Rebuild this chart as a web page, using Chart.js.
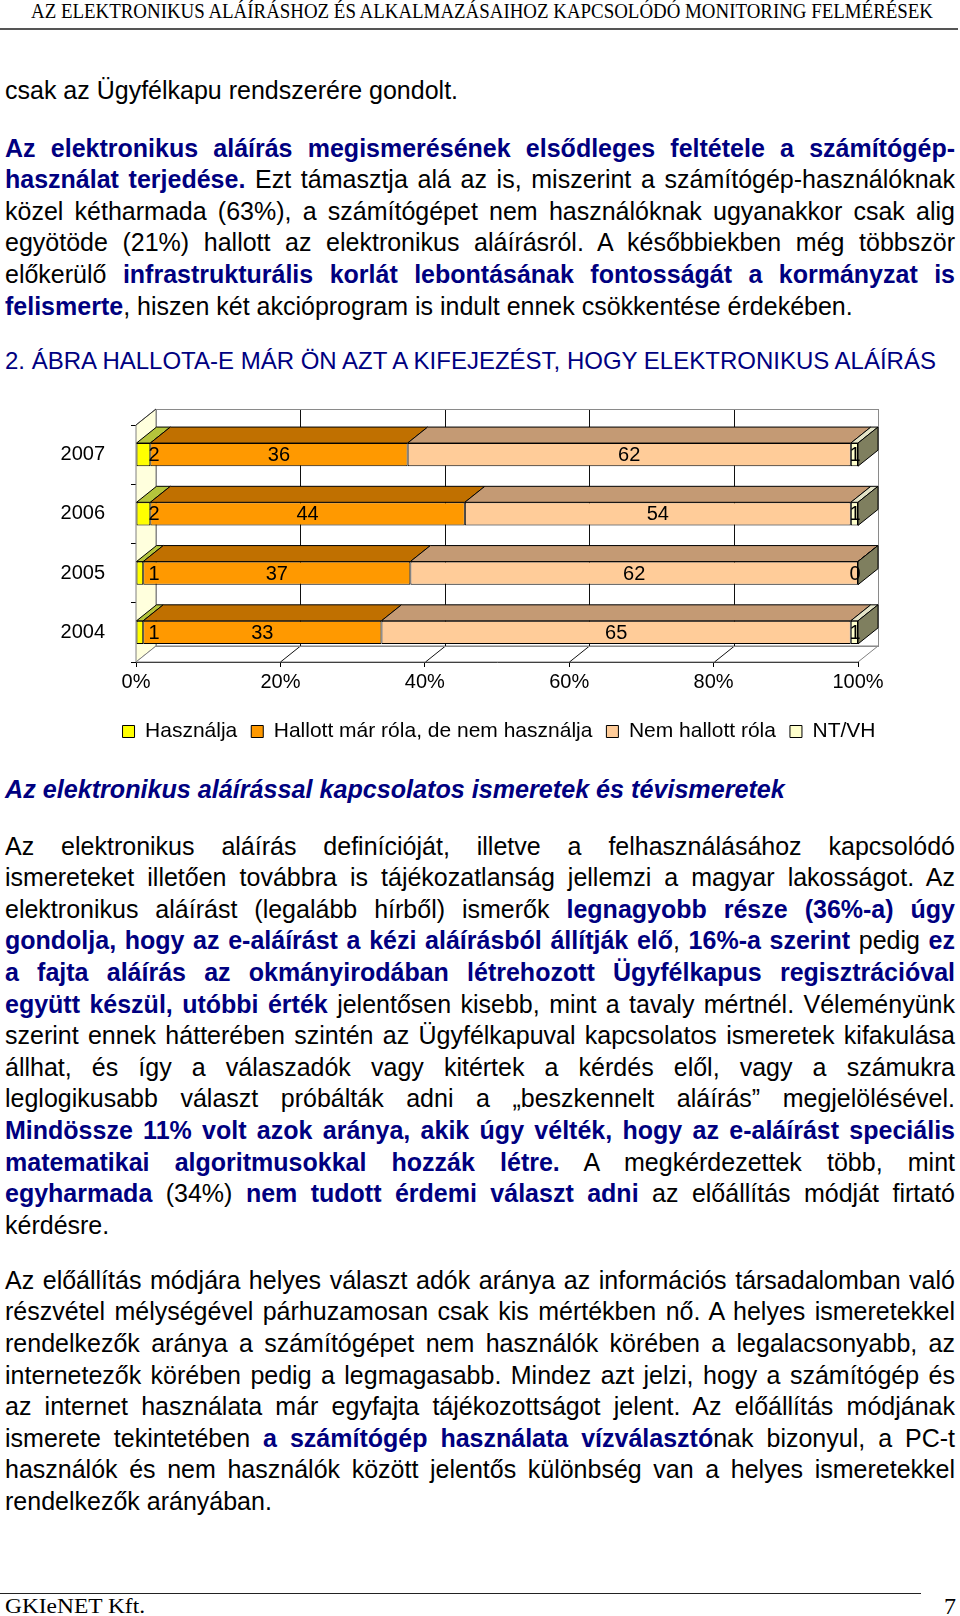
<!DOCTYPE html>
<html lang="hu">
<head>
<meta charset="utf-8">
<title>Elektronikus aláírás</title>
<script src="https://cdn.jsdelivr.net/npm/chart.js@4.4.0/dist/chart.umd.min.js"></script>
<style>
  body { margin: 0; background: #fff; }
  #page { position: relative; width: 960px; height: 1616px; overflow: hidden;
          font-family: "Liberation Sans", Arial, sans-serif; color: #000; background: #fff; }
  .serif { font-family: "Liberation Serif", "Times New Roman", serif; }
  #hdr { position: absolute; left: 31px; top: 1px; font-size: 21px; line-height: 21px;
         white-space: nowrap; transform-origin: 0 0; }
  #hdrRule { position: absolute; left: 0; top: 28px; width: 958px; height: 2px; background: #555; }
  .blk { position: absolute; left: 5px; width: 950px; font-size: 25px; line-height: 31.6px; }
  .ln { height: 31.6px; text-align: justify; text-align-last: justify; }
  .ln.e { text-align-last: left; }
  b { color: #000080; }
  #caption { position: absolute; left: 5px; top: 345px; font-size: 24px; line-height: 31.6px;
             color: #000080; white-space: nowrap; }
  #heading { position: absolute; left: 5px; top: 774px; font-size: 25.15px; line-height: 31.6px;
             color: #000080; font-weight: bold; font-style: italic; white-space: nowrap; }
  #chartBox { position: absolute; left: 0; top: 387px; width: 960px; height: 370px; }
  #footRule { position: absolute; left: 0; top: 1593px; width: 921px; height: 1px; background: #222; }
  #foot { position: absolute; left: 5px; top: 1595px; font-size: 22px; line-height: 22px;
          white-space: nowrap; transform-origin: 0 0; }
  #pageNo { position: absolute; left: 944px; top: 1594px; font-size: 24px; line-height: 24px; }
</style>
</head>
<body>
<div id="page">
  <div id="hdr" class="serif">AZ ELEKTRONIKUS ALÁÍRÁSHOZ ÉS ALKALMAZÁSAIHOZ KAPCSOLÓDÓ MONITORING FELMÉRÉSEK</div>
  <div id="hdrRule"></div>

  <div class="blk" style="top:75px">
    <div class="ln e">csak az Ügyfélkapu rendszerére gondolt.</div>
  </div>

  <div class="blk" style="top:132.7px">
    <div class="ln"><b>Az elektronikus aláírás megismerésének elsődleges feltétele a számítógép-</b></div>
    <div class="ln"><b>használat terjedése.</b> Ezt támasztja alá az is, miszerint a számítógép-használóknak</div>
    <div class="ln">közel kétharmada (63%), a számítógépet nem használóknak ugyanakkor csak alig</div>
    <div class="ln">egyötöde (21%) hallott az elektronikus aláírásról. A későbbiekben még többször</div>
    <div class="ln">előkerülő <b>infrastrukturális korlát lebontásának fontosságát a kormányzat is</b></div>
    <div class="ln e"><b>felismerte</b>, hiszen két akcióprogram is indult ennek csökkentése érdekében.</div>
  </div>

  <div id="caption">2. ÁBRA HALLOTA-E MÁR ÖN AZT A KIFEJEZÉST, HOGY ELEKTRONIKUS ALÁÍRÁS</div>

  <div id="chartBox"><canvas id="chart" width="960" height="370"></canvas></div>

  <div id="heading">Az elektronikus aláírással kapcsolatos ismeretek és tévismeretek</div>

  <div class="blk" style="top:830.7px">
    <div class="ln">Az elektronikus aláírás definícióját, illetve a felhasználásához kapcsolódó</div>
    <div class="ln">ismereteket illetően továbbra is tájékozatlanság jellemzi a magyar lakosságot. Az</div>
    <div class="ln">elektronikus aláírást (legalább hírből) ismerők <b>legnagyobb része (36%-a) úgy</b></div>
    <div class="ln"><b>gondolja, hogy az e-aláírást a kézi aláírásból állítják elő</b>, <b>16%-a szerint</b> pedig <b>ez</b></div>
    <div class="ln"><b>a fajta aláírás az okmányirodában létrehozott Ügyfélkapus regisztrációval</b></div>
    <div class="ln"><b>együtt készül, utóbbi érték</b> jelentősen kisebb, mint a tavaly mértnél. Véleményünk</div>
    <div class="ln">szerint ennek hátterében szintén az Ügyfélkapuval kapcsolatos ismeretek kifakulása</div>
    <div class="ln">állhat, és így a válaszadók vagy kitértek a kérdés elől, vagy a számukra</div>
    <div class="ln">leglogikusabb választ próbálták adni a „beszkennelt aláírás” megjelölésével.</div>
    <div class="ln"><b>Mindössze 11% volt azok aránya, akik úgy vélték, hogy az e-aláírást speciális</b></div>
    <div class="ln"><b>matematikai algoritmusokkal hozzák létre.</b> A megkérdezettek több, mint</div>
    <div class="ln"><b>egyharmada</b> (34%) <b>nem tudott érdemi választ adni</b> az előállítás módját firtató</div>
    <div class="ln e">kérdésre.</div>
  </div>

  <div class="blk" style="top:1264.8px">
    <div class="ln">Az előállítás módjára helyes választ adók aránya az információs társadalomban való</div>
    <div class="ln">részvétel mélységével párhuzamosan csak kis mértékben nő. A helyes ismeretekkel</div>
    <div class="ln">rendelkezők aránya a számítógépet nem használók körében a legalacsonyabb, az</div>
    <div class="ln">internetezők körében pedig a legmagasabb. Mindez azt jelzi, hogy a számítógép és</div>
    <div class="ln">az internet használata már egyfajta tájékozottságot jelent. Az előállítás módjának</div>
    <div class="ln">ismerete tekintetében <b>a számítógép használata vízválasztó</b>nak bizonyul, a PC-t</div>
    <div class="ln">használók és nem használók között jelentős különbség van a helyes ismeretekkel</div>
    <div class="ln e">rendelkezők arányában.</div>
  </div>

  <div id="footRule"></div>
  <div id="foot" class="serif">GKIeNET Kft.</div>
  <div id="pageNo" class="serif">7</div>
</div>

<script>
// Chart data (percent of respondents)
const years = ['2007', '2006', '2005', '2004'];
const hasznalja = [2, 2, 1, 1];
const hallott = [36, 44, 37, 33];
const nemHallott = [62, 54, 62, 65];
const ntvh = [1, 1, 0, 1];
const seriesNames = ['Használja', 'Hallott már róla, de nem használja', 'Nem hallott róla', 'NT/VH'];
const xTicks = [0, 20, 40, 60, 80, 100];

const series = [hasznalja, hallott, nemHallott, ntvh];
const frontColors = ['#FFFF00', '#FF9900', '#FFCC99', '#FFFFCC'];
const topColors = ['#B4C43C', '#C07000', '#C49A74', '#E4E4C8'];
const sideColor = '#7F7F5F';
const DX = 20, DY = 16;

// 100% stacked: each row is scaled to its own total
const totals = years.map((_, i) => series.reduce((s, arr) => s + arr[i], 0));
const toPct = arr => arr.map((v, i) => v / totals[i] * 100);

// fit page header/footer widths like the scanned page
function fitWidth(id, target) {
    const el = document.getElementById(id);
    const w = el.getBoundingClientRect().width;
    el.style.transform = 'scaleX(' + (target / w) + ')';
}
fitWidth('hdr', 902);
fitWidth('foot', 140);

// keep every justified line on one row
document.querySelectorAll('.ln').forEach(el => {
    let ls = 0;
    while (el.getBoundingClientRect().height > 33 && ls > -1.5) {
        ls -= 0.1;
        el.style.letterSpacing = ls + 'px';
    }
});

function poly(ctx, pts, fill, stroke) {
    ctx.beginPath();
    ctx.moveTo(pts[0][0], pts[0][1]);
    for (let i = 1; i < pts.length; i++) ctx.lineTo(pts[i][0], pts[i][1]);
    ctx.closePath();
    if (fill) { ctx.fillStyle = fill; ctx.fill(); }
    if (stroke) { ctx.strokeStyle = stroke; ctx.stroke(); }
}

function seg(ctx, x1, y1, x2, y2, color) {
    ctx.beginPath();
    ctx.moveTo(x1, y1);
    ctx.lineTo(x2, y2);
    ctx.strokeStyle = color;
    ctx.stroke();
}

// 3D walls, top faces, side faces and value labels
const depthPlugin = {
    id: 'depth3d',
    beforeDatasetsDraw(chart) {
        const { ctx, chartArea: a } = chart;
        const x = chart.scales.x;
        ctx.save();
        ctx.lineWidth = 1;
        // back wall
        ctx.fillStyle = '#fff';
        ctx.fillRect(a.left + DX, a.top - DY, a.width, a.height);
        // side wall
        poly(ctx, [[a.left, a.top], [a.left + DX, a.top - DY], [a.left + DX, a.bottom - DY], [a.left, a.bottom]], '#FFFFDD', '#808080');
        // floor
        poly(ctx, [[a.left, a.bottom], [a.left + DX, a.bottom - DY], [a.right + DX, a.bottom - DY], [a.right, a.bottom]], '#fff', '#808080');
        // gridlines on back wall and floor
        xTicks.slice(1, -1).forEach(v => {
            const px = Math.round(x.getPixelForValue(v)) + 0.5;
            seg(ctx, px + DX, a.top - DY, px + DX, a.bottom - DY, '#111');
            seg(ctx, px, a.bottom, px + DX, a.bottom - DY, '#111');
        });
        ctx.strokeStyle = '#8a8a8a';
        ctx.strokeRect(a.left + DX + 0.5, a.top - DY + 0.5, a.width, a.height);
        seg(ctx, a.left, a.top, a.left + DX, a.top - DY, '#333');
        ctx.restore();
    },
    afterDatasetsDraw(chart) {
        const { ctx } = chart;
        const n = chart.data.datasets.length;
        ctx.save();
        ctx.lineWidth = 1;
        const bars = [];
        for (let di = 0; di < n; di++) {
            bars.push(chart.getDatasetMeta(di).data.map(b => b.getProps(['x', 'y', 'base', 'height'], true)));
        }
        // top faces
        bars.forEach((row, di) => row.forEach(b => {
            const top = b.y - b.height / 2;
            poly(ctx, [[b.base, top], [b.base + DX, top - DY], [b.x + DX, top - DY], [b.x, top]], topColors[di], '#000');
        }));
        // right side face of each stack
        bars[n - 1].forEach(b => {
            const top = b.y - b.height / 2, bottom = b.y + b.height / 2;
            poly(ctx, [[b.x, top], [b.x + DX, top - DY], [b.x + DX, bottom - DY], [b.x, bottom]], sideColor, '#000');
        });
        // value labels
        ctx.font = '20px "Liberation Sans", Arial, sans-serif';
        ctx.fillStyle = '#000';
        ctx.textBaseline = 'middle';
        bars.forEach((row, di) => row.forEach((b, i) => {
            let tx;
            if (di === 0) { ctx.textAlign = 'left'; tx = b.base + 12; }
            else if (di === n - 1) { ctx.textAlign = 'center'; tx = b.x - 3; }
            else { ctx.textAlign = 'center'; tx = (b.base + b.x) / 2; }
            ctx.fillText(String(series[di][i]), tx, b.y + 1);
        }));
        ctx.restore();
    }
};

Chart.defaults.font.family = '"Liberation Sans", Arial, sans-serif';
Chart.defaults.font.size = 20;
Chart.defaults.color = '#000';

new Chart(document.getElementById('chart').getContext('2d'), {
    type: 'bar',
    data: {
        labels: years,
        datasets: series.map((arr, i) => ({
            label: seriesNames[i],
            data: toPct(arr),
            backgroundColor: frontColors[i],
            borderColor: '#000',
            borderWidth: 1,
            borderSkipped: false,
            categoryPercentage: 1,
            barPercentage: 0.39
        }))
    },
    options: {
        indexAxis: 'y',
        responsive: false,
        animation: false,
        devicePixelRatio: 1,
        layout: { padding: { top: 38, left: 38, right: 0, bottom: 5 } },
        scales: {
            x: {
                stacked: true,
                min: 0,
                max: 100,
                z: 1,
                afterBuildTicks: s => { s.ticks = xTicks.map(v => ({ value: v })); },
                afterFit: s => { s.height = 45; },
                ticks: { padding: 3, callback: v => v + '%', maxRotation: 0 },
                grid: { drawOnChartArea: false, drawTicks: true, tickLength: 5, color: '#000' },
                border: { color: '#000' }
            },
            y: {
                stacked: true,
                z: 1,
                afterFit: s => { s.width = 98; },
                ticks: { padding: 26 },
                grid: { drawOnChartArea: false, drawTicks: true, tickLength: 5, color: '#000', offset: true },
                border: { color: '#000' }
            },
            yPad: {
                position: 'right',
                display: true,
                afterFit: s => { s.width = 102; },
                ticks: { display: false },
                grid: { display: false },
                border: { display: false }
            }
        },
        plugins: {
            legend: {
                position: 'bottom',
                align: 'center',
                labels: { boxWidth: 12, boxHeight: 12, padding: 14, color: '#000', font: { size: 21 } }
            },
            tooltip: { enabled: false }
        }
    },
    plugins: [depthPlugin]
});
</script>
</body>
</html>
